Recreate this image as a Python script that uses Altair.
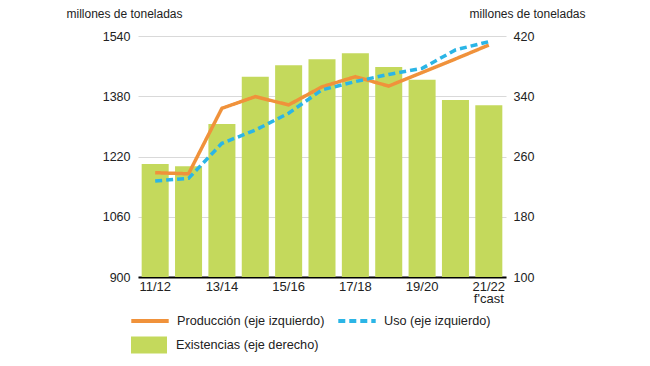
import altair as alt
import pandas as pd

categories = ["11/12", "12/13", "13/14", "14/15", "15/16", "16/17",
              "17/18", "18/19", "19/20", "20/21", "21/22"]
produccion = [1177, 1174, 1348, 1379, 1357, 1405, 1432, 1407, 1443, 1479, 1516]
uso = [1155, 1162, 1255, 1290, 1335, 1397, 1419, 1438, 1454, 1503, 1525]
existencias = [250, 247, 303, 366, 381, 389, 397, 379, 362, 335, 328]
axis_labels = ["11/12", "13/14", "15/16", "17/18", "19/20", "21/22"]
left_ticks = [900, 1060, 1220, 1380, 1540]
right_ticks = [100, 180, 260, 340, 420]
series_names = ["Producción (eje izquierdo)", "Uso (eje izquierdo)"]
stock_name = "Existencias (eje derecho)"
unit_title = "millones de toneladas"

ORANGE = "#F0923B"
BLUE = "#2BB5E6"
GREEN = "#C4D95C"
FONT = "Liberation Sans"
TXT = "#222222"

line_df = pd.DataFrame({
    "cat": categories * 2,
    "value": produccion + uso,
    "series": [series_names[0]] * len(categories) + [series_names[1]] * len(categories),
})
bar_df = pd.DataFrame({
    "cat": categories,
    "stock": existencias,
    "name": [stock_name] * len(categories),
})

x_scale = alt.Scale(type="band", domain=categories, paddingInner=0.19, paddingOuter=0.11)
x_axis = alt.Axis(
    values=axis_labels, title=None, labelAngle=0, ticks=False,
    domainColor="#000000", domainWidth=2, labelPadding=3,
    labelFontSize=13, labelColor=TXT, labelFont=FONT, labelLineHeight=12,
    labelFontWeight="normal",
    labelExpr="datum.value == '21/22' ? ['21/22', \"f'cast\"] : datum.value",
)

line_legend = alt.Legend(
    title=None, orient="none", legendX=-9, legendY=264, direction="horizontal",
    symbolType="stroke", symbolSize=1400, symbolStrokeWidth=4,
    labelOffset=6, columnPadding=5, labelFontSize=12.7, labelFont=FONT,
    labelFontWeight="normal", labelColor=TXT, padding=0,
)

bars = alt.Chart(bar_df).mark_bar().encode(
    x=alt.X("cat:N", sort=categories, scale=x_scale, axis=x_axis),
    y=alt.Y("stock:Q", scale=alt.Scale(domain=[100, 420], nice=False, zero=False),
            axis=alt.Axis(orient="right", values=right_ticks, grid=False, domain=False,
                          ticks=False, labelPadding=7, labelFontSize=12.5, labelFont=FONT,
                          labelColor=TXT, format="d", title=unit_title, titleAngle=0,
                          titleX=21, titleY=-19, titleAlign="center",
                          titleBaseline="alphabetic", titleFontSize=12,
                          titleFontWeight="normal", titleFont=FONT, titleColor=TXT)),
    y2=alt.datum(100),
    fill=alt.Fill("name:N", scale=alt.Scale(domain=[stock_name], range=[GREEN]),
                  legend=alt.Legend(title=None, orient="none", legendX=-7, legendY=291,
                                    symbolType="M-1,-0.47H1V0.47H-1Z", symbolSize=1296,
                                    symbolStrokeWidth=0, labelOffset=9, labelFontSize=12.7,
                                    labelFont=FONT, labelFontWeight="normal",
                                    labelColor=TXT, padding=0)),
)

lines = alt.Chart(line_df).mark_line(strokeWidth=3.5).encode(
    x=alt.X("cat:N", sort=categories, scale=x_scale, axis=x_axis),
    y=alt.Y("value:Q", scale=alt.Scale(domain=[900, 1540], nice=False, zero=False),
            axis=alt.Axis(orient="left", values=left_ticks, grid=True, gridColor="#D9D9D9",
                          gridWidth=1, domain=False, ticks=False, labelPadding=8,
                          labelFontSize=12.5, labelFont=FONT, labelColor=TXT, format="d",
                          title=unit_title, titleAngle=0, titleX=-14, titleY=-19,
                          titleAlign="center", titleBaseline="alphabetic", titleFontSize=12,
                          titleFontWeight="normal", titleFont=FONT, titleColor=TXT)),
    color=alt.Color("series:N", scale=alt.Scale(domain=series_names, range=[ORANGE, BLUE]),
                    legend=line_legend),
    strokeDash=alt.StrokeDash("series:N",
                              scale=alt.Scale(domain=series_names, range=[[1, 0], [7, 4]]),
                              legend=line_legend),
)

chart = alt.layer(bars, lines).resolve_scale(
    y="independent"
).properties(
    width=368, height=241,
    padding={"left": 130, "top": 28, "right": 134, "bottom": 79},
    autosize=alt.AutoSizeParams(type="none"),
    background="white",
).configure_view(stroke=None)

chart.save("out.html", embed_options={"renderer": "svg", "actions": False})
